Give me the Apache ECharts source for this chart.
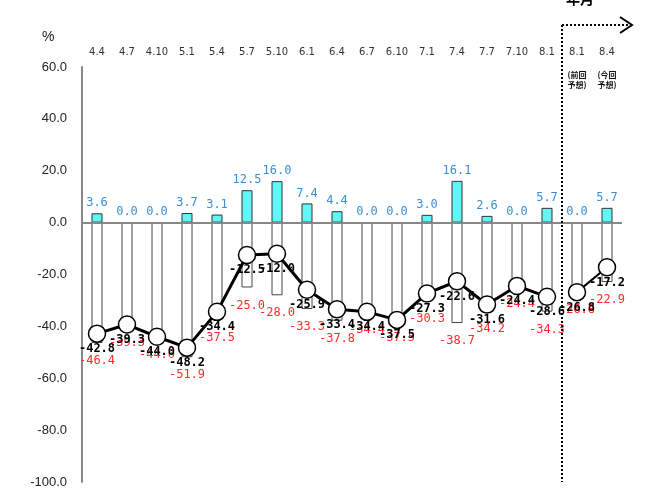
<!DOCTYPE html>
<html>
<head>
<meta charset="utf-8">
<script src="https://cdn.jsdelivr.net/npm/echarts@6/dist/echarts.min.js"></script>
<style>
html,body{margin:0;padding:0;background:#fff;}
#main{width:651px;height:490px;}
</style>
</head>
<body>
<div id="main"></div>
<script>
const categories = ['4.4','4.7','4.10','5.1','5.4','5.7','5.10','6.1','6.4','6.7','6.10','7.1','7.4','7.7','7.10','8.1','8.1','8.4'];
const improved = [3.6,0.0,0.0,3.7,3.1,12.5,16.0,7.4,4.4,0.0,0.0,3.0,16.1,2.6,0.0,5.7,0.0,5.7];
const worsened = [-46.4,-39.3,-44.0,-51.9,-37.5,-25.0,-28.0,-33.3,-37.8,-34.4,-37.5,-30.3,-38.7,-34.2,-24.4,-34.3,-26.8,-22.9];
const diActual = [-42.8,-39.3,-44.0,-48.2,-34.4,-12.5,-12.0,-25.9,-33.4,-34.4,-37.5,-27.3,-22.6,-31.6,-24.4,-28.6,null,null];
const diForecast = [null,null,null,null,null,null,null,null,null,null,null,null,null,null,null,null,-26.8,-17.2];
const yTicks = {min:-100, max:60, step:20};
const forecastNotes = ['(前回\n予想)','(今回\n予想)'];

const chart = echarts.init(document.getElementById('main'), null, {renderer:'canvas'});
const mono = 'DejaVu Sans Mono';
const fmt = p => (p.value == null ? '' : Number(p.value).toFixed(1));

chart.setOption({
  animation:false,
  backgroundColor:'#fff',
  grid:{left:82, right:29, top:67, bottom:8, containLabel:false},
  xAxis:{
    type:'category', data:categories, position:'top',
    axisLine:{show:false}, axisTick:{show:false}, splitLine:{show:false},
    axisLabel:{fontSize:10, color:'#333', margin:10, fontFamily:'DejaVu Sans', interval:0}
  },
  yAxis:{
    type:'value', min:yTicks.min, max:yTicks.max, interval:yTicks.step,
    axisLine:{show:true, lineStyle:{color:'#888', width:2}},
    axisTick:{show:false}, splitLine:{show:false},
    axisLabel:{fontSize:13, color:'#222', margin:15, fontFamily:'Liberation Sans',
      formatter:v => v.toFixed(1)}
  },
  series:[
    {
      type:'bar', name:'improved', stack:'s', data:improved, barWidth:11, z:2,
      itemStyle:{color:'#5ff7f7', borderColor:'#333', borderWidth:1},
      label:{show:true, position:'top', distance:4, color:'#3a8fd6', fontSize:12, fontFamily:mono, formatter:fmt},
      markLine:{silent:true, symbol:['none','none'], label:{show:false},
        lineStyle:{color:'#888', width:2, type:'solid'}, data:[{yAxis:0}]}
    },
    {
      type:'bar', name:'worsened', stack:'s', data:worsened, barWidth:11, z:2,
      itemStyle:{color:'#fff', borderColor:'#444', borderWidth:1},
      label:{show:true, position:'bottom', distance:12, color:'#ff2a2a', fontSize:12, fontFamily:mono, formatter:fmt}
    },
    {
      type:'line', name:'DI', data:diActual, z:5, symbol:'circle', symbolSize:17,
      lineStyle:{color:'#000', width:3},
      itemStyle:{color:'#fff', borderColor:'#000', borderWidth:1.5},
      label:{show:true, position:'bottom', distance:0, color:'#000', fontSize:12, fontWeight:'bold', fontFamily:mono, formatter:fmt}
    },
    {
      type:'line', name:'DIf', data:diForecast, z:5, symbol:'circle', symbolSize:17,
      lineStyle:{color:'#000', width:2},
      itemStyle:{color:'#fff', borderColor:'#000', borderWidth:1.5},
      label:{show:true, position:'bottom', distance:0, color:'#000', fontSize:12, fontWeight:'bold', fontFamily:mono, formatter:fmt}
    }
  ]
});

const px = i => chart.convertToPixel({xAxisIndex:0}, i);
const xSep = (px(15) + px(16)) / 2;
const yTop = 25, yBot = 482;
chart.setOption({
  graphic:[
    {type:'line', shape:{x1:xSep, y1:yTop, x2:xSep, y2:yBot}, style:{stroke:'#000', lineWidth:2, lineDash:[2,2]}, z:10},
    {type:'line', shape:{x1:xSep, y1:yTop, x2:xSep+66, y2:yTop}, style:{stroke:'#000', lineWidth:2, lineDash:[2,2]}, z:10},
    {type:'polyline', shape:{points:[[xSep+58,yTop-8],[xSep+70,yTop],[xSep+58,yTop+8]]}, style:{stroke:'#000', lineWidth:2, fill:null}, z:10},
    {type:'text', x:xSep+4, y:-8, style:{text:'年月', font:'bold 14px "Noto Sans CJK JP"', fill:'#000'}, z:10},
    {type:'text', x:42, y:30, style:{text:'%', font:'14px "Liberation Sans"', fill:'#222'}, z:10},
    {type:'text', x:px(16), y:70, style:{text:forecastNotes[0], font:'bold 8px "Noto Sans CJK JP"', fill:'#111', align:'center', lineHeight:10}, z:10},
    {type:'text', x:px(17), y:70, style:{text:forecastNotes[1], font:'bold 8px "Noto Sans CJK JP"', fill:'#111', align:'center', lineHeight:10}, z:10}
  ]
});
</script>
</body>
</html>
